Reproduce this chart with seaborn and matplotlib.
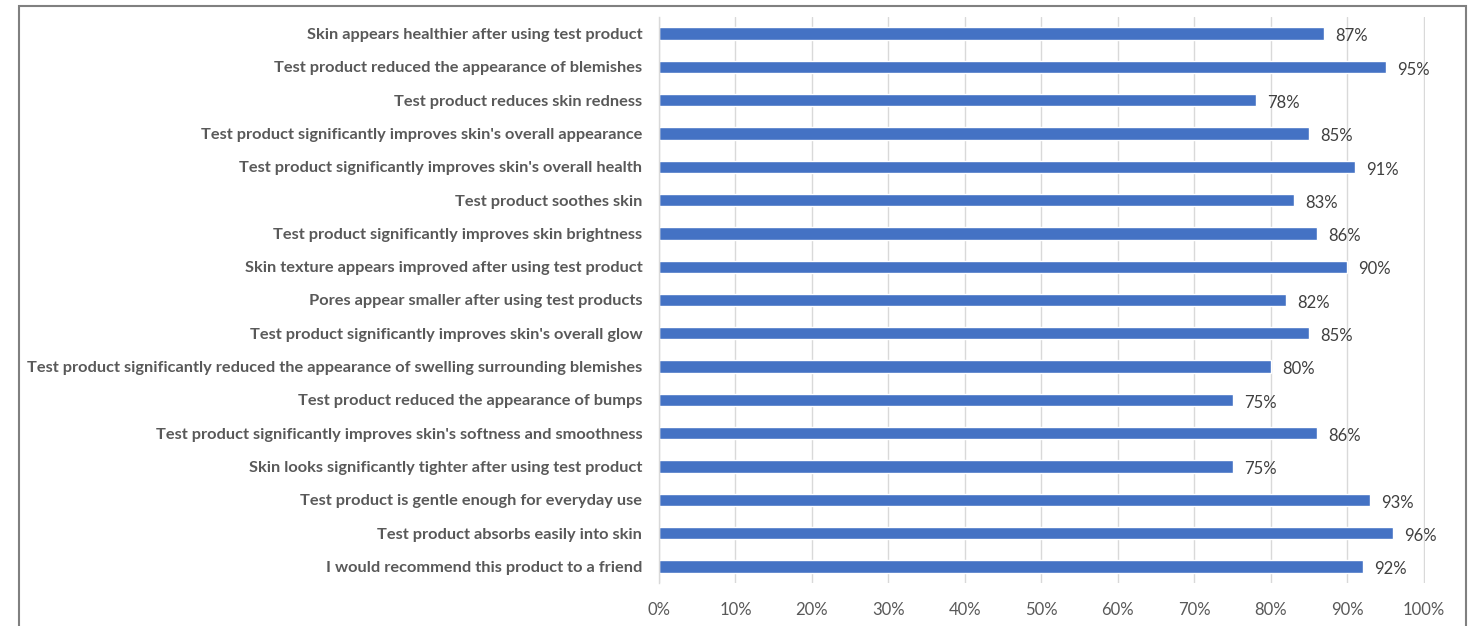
import matplotlib
matplotlib.use("Agg")
import matplotlib.pyplot as plt
import matplotlib.patches as mpatches
from matplotlib.ticker import FuncFormatter
import seaborn as sns
import pandas as pd

categories = [
    "Skin appears healthier after using test product",
    "Test product reduced the appearance of blemishes",
    "Test product reduces skin redness",
    "Test product significantly improves skin's overall appearance",
    "Test product significantly improves skin's overall health",
    "Test product soothes skin",
    "Test product significantly improves skin brightness",
    "Skin texture appears improved after using test product",
    "Pores appear smaller after using test products",
    "Test product significantly improves skin's overall glow",
    "Test product significantly reduced the appearance of swelling surrounding blemishes",
    "Test product reduced the appearance of bumps",
    "Test product significantly improves skin's softness and smoothness",
    "Skin looks significantly tighter after using test product",
    "Test product is gentle enough for everyday use",
    "Test product absorbs easily into skin",
    "I would recommend this product to a friend",
]
values = [87, 95, 78, 85, 91, 83, 86, 90, 82, 85, 80, 75, 86, 75, 93, 96, 92]
x_ticks = [0, 10, 20, 30, 40, 50, 60, 70, 80, 90, 100]

sns.set_theme(style="white")
plt.rcParams['font.family'] = ['Lato', 'DejaVu Sans']

df = pd.DataFrame({"category": categories, "value": values})

fig = plt.figure(figsize=(14.8, 6.26), dpi=100)
ax = fig.add_axes([659/1480, 1-583/626, (1425-659)/1480, (583-17)/626])

sns.barplot(data=df, y="category", x="value", orient="h", color="#4472C4",
            saturation=1, width=0.37, ax=ax)

ax.set_xlim(0, 100.15)
ax.set_xticks(x_ticks)
ax.xaxis.set_major_formatter(FuncFormatter(lambda v, p: f"{v:.0f}%"))
ax.grid(axis="x", color="#d9d9d9", linewidth=1)
ax.set_axisbelow(True)
for s in ["top", "right", "bottom"]:
    ax.spines[s].set_visible(False)
ax.spines["left"].set_color("#d9d9d9")
ax.spines["left"].set_linewidth(1)
ax.set_xlabel("")
ax.set_ylabel("")
ax.tick_params(axis="x", length=0, pad=14, labelsize=12, labelcolor="#595959")
ax.tick_params(axis="y", length=0, pad=12, labelcolor="#595959")
for lbl in ax.get_yticklabels():
    lbl.set_fontweight("bold")
    lbl.set_fontsize(11.8)

for i, v in enumerate(values):
    ax.annotate(f"{v}%", xy=(v, i), xytext=(8, -2), textcoords="offset points",
                va="center", ha="left", fontsize=12, color="#404040")

frame = mpatches.Rectangle((19/1480, -0.05), (1466-19)/1480, 1-6/626+0.05,
                           transform=fig.transFigure, fill=False,
                           edgecolor="#808080", linewidth=1.5)
fig.patches.append(frame)

fig.savefig("out.png", dpi=100, facecolor="white")
